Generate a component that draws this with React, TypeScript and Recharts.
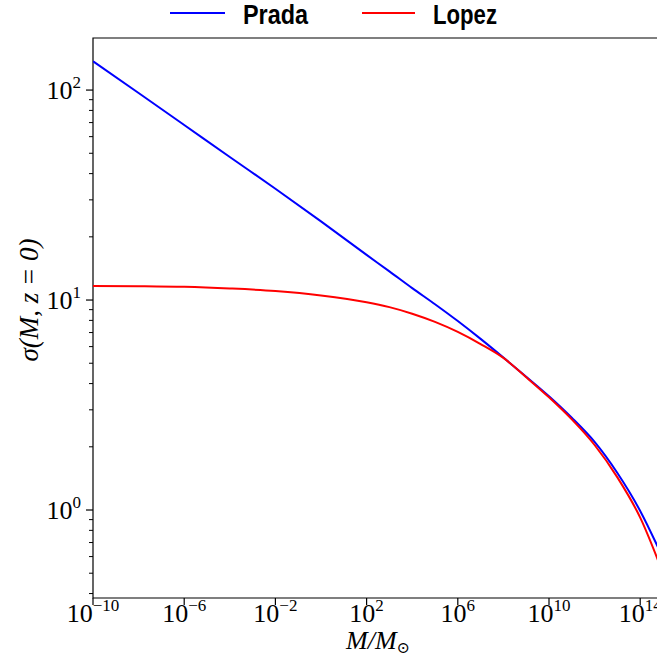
import React from 'react';
import { LineChart, Line, XAxis, YAxis, ReferenceArea } from 'recharts';

// masses in solar units
const masses = [1e-10, 1e-8, 1e-6, 1e-4, 1e-2, 1, 1e2, 1e3, 1e4, 1e5, 1e6, 1e7, 1e8, 1e9, 1e10, 1e11, 1e12, 1e13, 1e14, 1e15];
const prada = [137.1, 96.8, 68.2, 48.0, 33.9, 23.7, 16.4, 13.7, 11.4, 9.55, 7.94, 6.53, 5.32, 4.31, 3.48, 2.75, 2.11, 1.5, 0.99, 0.59];
const lopez = [11.67, 11.64, 11.56, 11.35, 11.04, 10.52, 9.77, 9.25, 8.61, 7.87, 7.05, 6.17, 5.3, 4.29, 3.44, 2.7, 2.04, 1.43, 0.92, 0.5];

const xTicks = [1e-10, 1e-6, 1e-2, 1e2, 1e6, 1e10, 1e14];
const yMajor = [1, 10, 100];
const yTicks = [0.4, 0.5, 0.6, 0.7, 0.8, 0.9, 1, 2, 3, 4, 5, 6, 7, 8, 9, 10, 20, 30, 40, 50, 60, 70, 80, 90, 100];

const X_MIN = 1e-10;
const X_MAX = 1e15;
const Y_MIN = 0.381;
const Y_MAX = 177;

const data = masses.map((m, i) => ({ m, prada: prada[i], lopez: lopez[i] }));

const SERIF = '"Liberation Serif", "DejaVu Serif", serif';
const SANS = '"Liberation Sans Narrow", "Liberation Sans", Arial, sans-serif';

const expOf = (v: number) => Math.round(Math.log10(v));
const fmtExp = (n: number) => (n < 0 ? '\u2212' + Math.abs(n) : String(n));

const XTick = (props: any) => {
  const { x, y, payload } = props;
  const e = expOf(payload.value);
  return (
    <g>
      <line x1={x} x2={x} y1={y} y2={y + 7} stroke="#000" strokeWidth={1.2} />
      <text x={x} y={y + 24} textAnchor="middle" fontFamily={SERIF} fontSize={26} fill="#000">
        <tspan>10</tspan>
        <tspan dy={-11} fontSize={17}>{fmtExp(e)}</tspan>
      </text>
    </g>
  );
};

const YTick = (props: any) => {
  const { x, y, payload } = props;
  const v = payload.value;
  const major = yMajor.some((t) => Math.abs(t - v) < 1e-9);
  if (!major) {
    return <line x1={x - 4} x2={x} y1={y} y2={y} stroke="#000" strokeWidth={1} />;
  }
  return (
    <g>
      <line x1={x - 7} x2={x} y1={y} y2={y} stroke="#000" strokeWidth={1.2} />
      <text x={x - 12} y={y + 9} textAnchor="end" fontFamily={SERIF} fontSize={26} fill="#000">
        <tspan>10</tspan>
        <tspan dy={-11} fontSize={17}>{fmtExp(expOf(v))}</tspan>
      </text>
    </g>
  );
};

export default function App() {
  return (
    <div style={{ position: 'fixed', left: 0, top: 0, width: 657, height: 659, overflow: 'hidden', background: '#fff' }}>
      <LineChart width={700} height={659} data={data} margin={{ top: 38, right: 37, left: 20, bottom: 21 }}>
        <XAxis
          dataKey="m"
          type="number"
          scale="log"
          domain={[X_MIN, X_MAX]}
          allowDataOverflow
          ticks={xTicks}
          tick={<XTick />}
          tickSize={0}
          tickMargin={0}
          axisLine={false}
          tickLine={false}
          height={40}
          interval={0}
        />
        <YAxis
          type="number"
          scale="log"
          domain={[Y_MIN, Y_MAX]}
          allowDataOverflow
          ticks={yTicks}
          tick={<YTick />}
          tickSize={0}
          tickMargin={0}
          axisLine={false}
          tickLine={false}
          width={73}
          interval={0}
        />
        <Line type="monotone" dataKey="prada" stroke="#0000ff" strokeWidth={2} dot={false} isAnimationActive={false} />
        <Line type="monotone" dataKey="lopez" stroke="#ff0000" strokeWidth={2} dot={false} isAnimationActive={false} />
        <ReferenceArea x1={X_MIN} x2={X_MAX} y1={Y_MIN} y2={Y_MAX} fill="none" stroke="#000" strokeWidth={1.2} ifOverflow="visible" />
      </LineChart>
      <svg width={657} height={659} style={{ position: 'absolute', left: 0, top: 0, pointerEvents: 'none' }}>
        <line x1={170} x2={225} y1={13} y2={13} stroke="#0000ff" strokeWidth={2} />
        <text x={243} y={24} fontFamily={SANS} fontWeight="bold" fontSize={27} textLength={65} lengthAdjust="spacingAndGlyphs">Prada</text>
        <line x1={362} x2={415} y1={13} y2={13} stroke="#ff0000" strokeWidth={2} />
        <text x={433} y={24} fontFamily={SANS} fontWeight="bold" fontSize={27} textLength={64} lengthAdjust="spacingAndGlyphs">Lopez</text>
        <text x={38} y={300} transform="rotate(-90 38 300)" textAnchor="middle" fontFamily={SERIF} fontSize={27} fontStyle="italic">
          σ(M, z = 0)
        </text>
        <text x={378} y={649} textAnchor="middle" fontFamily={SERIF} fontSize={26} fontStyle="italic">
          M/M<tspan fontSize={16} dy={4} fontStyle="normal">⊙</tspan>
        </text>
      </svg>
    </div>
  );
}
